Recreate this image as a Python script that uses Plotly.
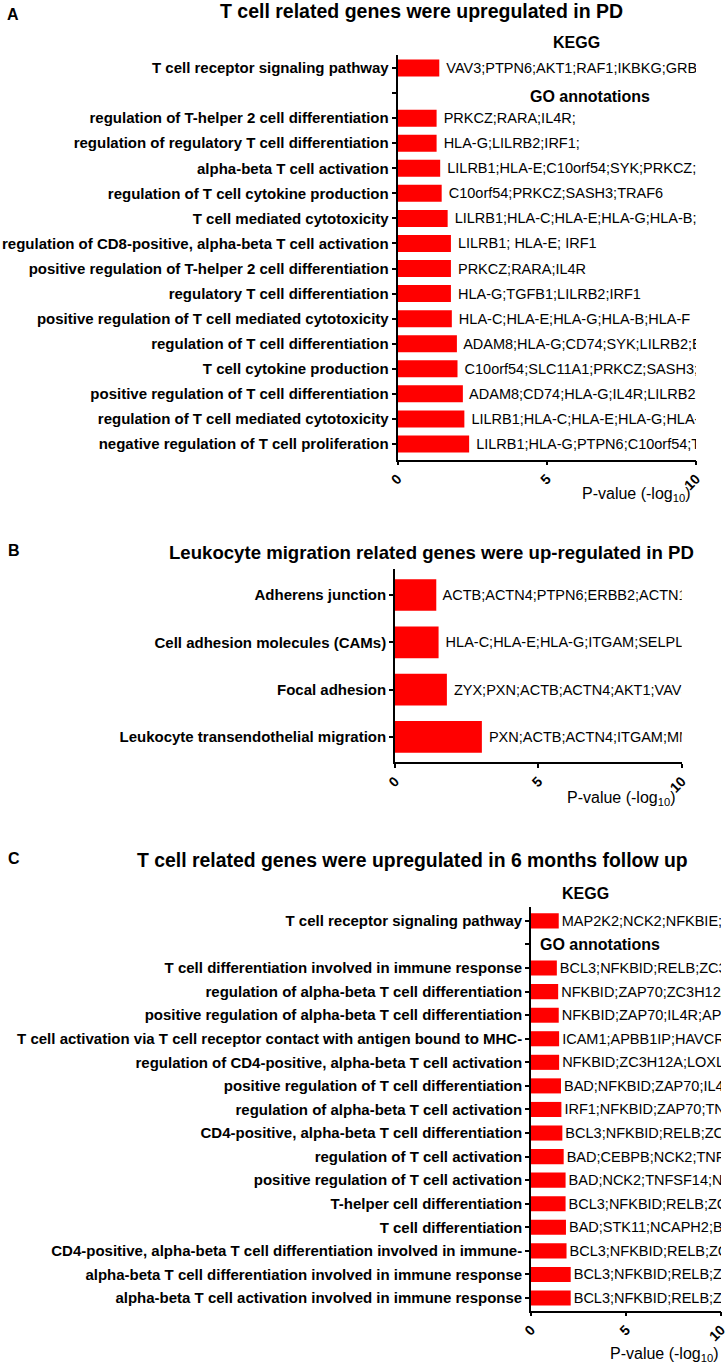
import plotly.graph_objects as go

W, H = 727, 1367

# ---------------- Panel A data ----------------
a_terms = [
    "T cell receptor signaling pathway",
    " ",
    "regulation of T-helper 2 cell differentiation",
    "regulation of regulatory T cell differentiation",
    "alpha-beta T cell activation",
    "regulation of T cell cytokine production",
    "T cell mediated cytotoxicity",
    "regulation of CD8-positive, alpha-beta T cell activation",
    "positive regulation of T-helper 2 cell differentiation",
    "regulatory T cell differentiation",
    "positive regulation of T cell mediated cytotoxicity",
    "regulation of T cell differentiation",
    "T cell cytokine production",
    "positive regulation of T cell differentiation",
    "regulation of T cell mediated cytotoxicity",
    "negative regulation of T cell proliferation",
]
a_values = [1.40, None, 1.31, 1.31, 1.43, 1.48, 1.68, 1.79, 1.79, 1.79, 1.82,
            1.99, 2.01, 2.19, 2.24, 2.40]
a_genes = [
    "VAV3;PTPN6;AKT1;RAF1;IKBKG;GRB2",
    "",
    "PRKCZ;RARA;IL4R;",
    "HLA-G;LILRB2;IRF1;",
    "LILRB1;HLA-E;C10orf54;SYK;PRKCZ;SASH3",
    "C10orf54;PRKCZ;SASH3;TRAF6",
    "LILRB1;HLA-C;HLA-E;HLA-G;HLA-B;HLA-F",
    "LILRB1; HLA-E; IRF1",
    "PRKCZ;RARA;IL4R",
    "HLA-G;TGFB1;LILRB2;IRF1",
    "HLA-C;HLA-E;HLA-G;HLA-B;HLA-F",
    "ADAM8;HLA-G;CD74;SYK;LILRB2;EBI3",
    "C10orf54;SLC11A1;PRKCZ;SASH3;TRAF6",
    "ADAM8;CD74;HLA-G;IL4R;LILRB2;IRF1",
    "LILRB1;HLA-C;HLA-E;HLA-G;HLA-B;HLA-F",
    "LILRB1;HLA-G;PTPN6;C10orf54;TGFB1",
]

# ---------------- Panel B data ----------------
b_terms = [
    "Adherens junction",
    "Cell adhesion molecules (CAMs)",
    "Focal adhesion",
    "Leukocyte transendothelial migration",
]
b_values = [1.44, 1.52, 1.81, 3.03]
b_genes = [
    "ACTB;ACTN4;PTPN6;ERBB2;ACTN1;IQGAP1",
    "HLA-C;HLA-E;HLA-G;ITGAM;SELPLG;HLA-B",
    "ZYX;PXN;ACTB;ACTN4;AKT1;VAV3;ITGAM",
    "PXN;ACTB;ACTN4;ITGAM;MMP9",
]

# ---------------- Panel C data ----------------
c_terms = [
    "T cell receptor signaling pathway",
    "  ",
    "T cell differentiation involved in immune response",
    "regulation of alpha-beta T cell differentiation",
    "positive regulation of alpha-beta T cell differentiation",
    "T cell activation via T cell receptor contact with antigen bound to MHC-",
    "regulation of CD4-positive, alpha-beta T cell activation",
    "positive regulation of T cell differentiation",
    "regulation of alpha-beta T cell activation",
    "CD4-positive, alpha-beta T cell differentiation",
    "regulation of T cell activation",
    "positive regulation of T cell activation",
    "T-helper cell differentiation",
    "T cell differentiation",
    "CD4-positive, alpha-beta T cell differentiation involved in immune-",
    "alpha-beta T cell differentiation involved in immune response",
    "alpha-beta T cell activation involved in immune response",
]
c_values = [1.46, None, 1.36, 1.43, 1.46, 1.48, 1.48, 1.58, 1.60, 1.65, 1.72,
            1.82, 1.82, 1.84, 1.87, 2.09, 2.09]
c_genes = [
    "MAP2K2;NCK2;NFKBIE;MAP3K14",
    "",
    "BCL3;NFKBID;RELB;ZC3H12A",
    "NFKBID;ZAP70;ZC3H12A;IL4R",
    "NFKBID;ZAP70;IL4R;AP3B1",
    "ICAM1;APBB1IP;HAVCR2",
    "NFKBID;ZC3H12A;LOXL3",
    "BAD;NFKBID;ZAP70;IL4R",
    "IRF1;NFKBID;ZAP70;TNFSF14",
    "BCL3;NFKBID;RELB;ZC3H12A",
    "BAD;CEBPB;NCK2;TNFSF14",
    "BAD;NCK2;TNFSF14;NFKBID",
    "BCL3;NFKBID;RELB;ZC3H12A",
    "BAD;STK11;NCAPH2;BCL3",
    "BCL3;NFKBID;RELB;ZC3H12A",
    "BCL3;NFKBID;RELB;ZC3H12A",
    "BCL3;NFKBID;RELB;ZC3H12A",
]

x_ticks = [0, 5, 10]
x_title = "P-value (-log<sub>10</sub>)"

FONT = "Arial, Liberation Sans, sans-serif"
RED = "#FF0000"


def px_x(p):
    return p / W


def px_y(p):
    return 1 - p / H


fig = go.Figure()

panels = [
    # terms, values, genes, xdom(px), ydom(px top,bottom), yrange, barwidth, textpad
    (a_terms, a_values, a_genes, (397.5, 696.0), (55.0, 459.5), (15.62, -0.52), 0.68, " "),
    (b_terms, b_values, b_genes, (395.0, 681.7), (569.0, 762.0), (3.53, -0.55), 0.67, " "),
    (c_terms, c_values, c_genes, (531.0, 721.0), (907.0, 1310.5), (16.53, -0.59), 0.64, ""),
]

layout_axes = {}
for i, (terms, vals, genes, xd, yd, yr, bw, pad) in enumerate(panels):
    n = i + 1
    xa = "x" if n == 1 else f"x{n}"
    ya = "y" if n == 1 else f"y{n}"
    fig.add_trace(go.Bar(
        x=vals, y=terms, orientation="h",
        xaxis=xa, yaxis=ya,
        width=bw,
        marker=dict(color=RED, line=dict(width=0)),
        text=[(pad + g) if g else "" for g in genes],
        textposition="outside",
        constraintext="none",
        cliponaxis=True,
        textfont=dict(family=FONT, size=14.5, color="black"),
        showlegend=False,
        hoverinfo="skip",
    ))
    xkey = "xaxis" if n == 1 else f"xaxis{n}"
    ykey = "yaxis" if n == 1 else f"yaxis{n}"
    layout_axes[xkey] = dict(
        domain=[px_x(xd[0]), px_x(xd[1])],
        anchor=ya,
        range=[0, 10],
        tickmode="array", tickvals=x_ticks,
        ticks="outside", ticklen=4, tickwidth=1.5, tickcolor="black",
        tickangle=-45,
        ticklabeloverflow="allow",
        tickfont=dict(family=FONT, size=14, color="black", weight="bold"),
        showline=True, linecolor="black", linewidth=1.6,
        showgrid=False, zeroline=False, automargin=False,
    )
    layout_axes[ykey] = dict(
        domain=[px_y(yd[1]), px_y(yd[0])],
        anchor=xa,
        type="category",
        categoryorder="array", categoryarray=terms,
        range=list(yr),
        ticks="outside", ticklen=4, tickwidth=1.5, tickcolor="black",
        tickfont=dict(family=FONT, size=15, color="black", weight="bold"),
        showline=True, linecolor="black", linewidth=1.6,
        showgrid=False, zeroline=False, automargin=False,
    )

fig.update_layout(**layout_axes)


def ann(text, xp, yp, size, bold=True, xanchor="center"):
    return dict(
        text=text, x=px_x(xp), y=px_y(yp), xref="paper", yref="paper",
        xanchor=xanchor, yanchor="middle", showarrow=False,
        font=dict(family=FONT, size=size, color="black",
                  weight="bold" if bold else "normal"),
    )


annotations = [
    ann("A", 13, 15, 16),
    ann("T cell related genes were upregulated in PD", 421, 11, 19.5),
    ann("KEGG", 576, 43, 16),
    ann("GO annotations", 590, 97, 16),
    ann(x_title, 692, 494, 16, bold=False, xanchor="right"),

    ann("B", 14, 550, 16),
    ann("Leukocyte migration related genes were up-regulated in PD", 431, 552, 18.6),
    ann(x_title, 677, 798, 16, bold=False, xanchor="right"),

    ann("C", 14, 858, 16),
    ann("T cell related genes were upregulated in 6 months follow up", 412, 860, 19.4),
    ann("KEGG", 585, 893, 16),
    ann("GO annotations", 538, 944, 16, xanchor="left"),
    ann(x_title, 720, 1354, 16, bold=False, xanchor="right"),
]

fig.update_layout(
    width=W, height=H,
    margin=dict(l=0, r=0, t=0, b=0),
    paper_bgcolor="white", plot_bgcolor="white",
    font=dict(family=FONT, color="black"),
    annotations=annotations,
    showlegend=False,
)

fig.write_html(
    "out.html",
    config={"displayModeBar": False},
    post_script="document.body.style.margin='0px';document.body.style.overflow='hidden';",
)
